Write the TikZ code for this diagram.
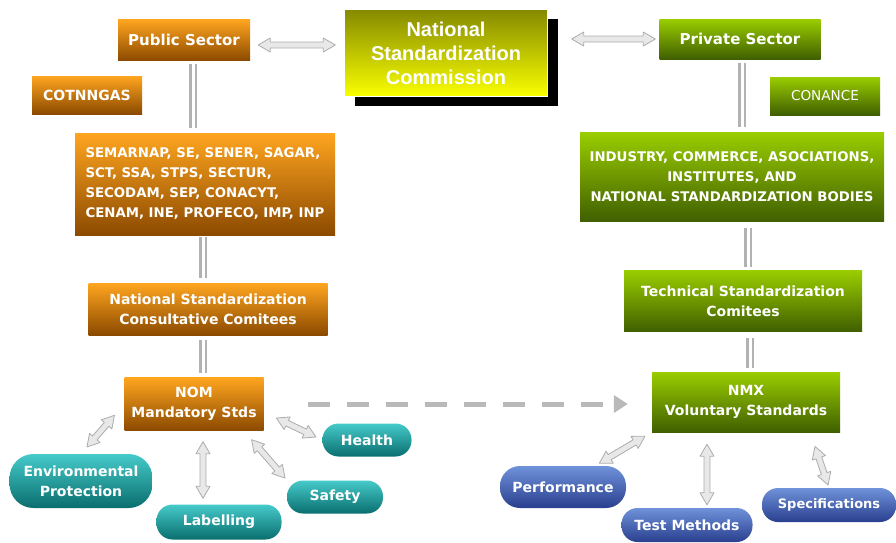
\documentclass[tikz,border=0pt]{standalone}
\usepackage{fontspec}
\setmainfont{DejaVu Sans}
\newfontfamily\arialfont{Liberation Sans}
\usepackage{tikz}
\usetikzlibrary{calc,positioning,arrows.meta,shapes.misc,shadows}

\definecolor{orangetop}{HTML}{FFA51F}
\definecolor{orangemid}{HTML}{EE8A00}
\definecolor{orangebot}{HTML}{8C4A00}
\definecolor{greentop}{HTML}{9ACD00}
\definecolor{greenmid}{HTML}{78A800}
\definecolor{greenbot}{HTML}{405F00}
\definecolor{tealtop}{HTML}{46CACA}
\definecolor{tealbot}{HTML}{0A6E6E}
\definecolor{bluetop}{HTML}{6F92DA}
\definecolor{bluebot}{HTML}{2A3F8F}
\definecolor{olivetop}{HTML}{858A00}
\definecolor{commyellow}{HTML}{FAFF00}

\tikzset{
    >=Stealth,
    orangebox/.style={
        rectangle,
        inner sep=0pt,
        top color=orangetop,
        middle color=orangemid,
        bottom color=orangebot,
        text=white,
        font=\fontsize{14}{20}\selectfont\bfseries
    },
    greenbox/.style={
        rectangle,
        inner sep=0pt,
        top color=greentop,
        middle color=greenmid,
        bottom color=greenbot,
        text=white,
        font=\fontsize{14}{20}\selectfont\bfseries
    },
    tealpill/.style={
        rectangle,
        rounded corners=16pt,
        inner sep=0pt,
        top color=tealtop,
        bottom color=tealbot,
        text=white,
        font=\fontsize{14}{20}\selectfont\bfseries
    },
    bluepill/.style={
        rectangle,
        rounded corners=16pt,
        inner sep=0pt,
        top color=bluetop,
        bottom color=bluebot,
        text=white,
        font=\fontsize{14}{20}\selectfont\bfseries
    },
    link/.style={draw=gray!60, line width=2.5pt, double=white, double distance=3pt},
    fatarrow/.style={fill=gray!18, draw=gray!65, line width=0.8pt, line join=round}
}

% two-headed block arrow between two points, shortened by #3 and #4
\newcommand{\biarrow}[4]{%
    \draw[fatarrow] let \p1=($(#1)!#3!(#2)$), \p2=($(#2)!#4!(#1)$),
        \n1={atan2(\y2-\y1,\x2-\x1)}, \n2={veclen(\x2-\x1,\y2-\y1)} in
        [shift={(\p1)}, rotate=\n1]
        (0pt,0pt) -- (12pt,7pt) -- (12pt,3pt) -- ({\n2*1pt-12pt},3pt) -- ({\n2*1pt-12pt},7pt)
        -- ({\n2*1pt},0pt) -- ({\n2*1pt-12pt},-7pt) -- ({\n2*1pt-12pt},-3pt)
        -- (12pt,-3pt) -- (12pt,-7pt) -- cycle;}

\begin{document}
\begin{tikzpicture}[x=1pt, y=-1pt,
            commission/.style={
                rectangle,
                inner sep=0pt,
                top color=olivetop,
                bottom color=commyellow,
                draw=white, thin,
                text=white,
                font=\arialfont\fontsize{20}{24}\selectfont\bfseries,
                drop shadow={shadow xshift=10pt, shadow yshift=-9pt, fill=black, opacity=1}
            },
            dashlink/.style={
                draw=gray!55,
                line width=5pt,
                dash pattern=on 22pt off 17pt,
                -{Triangle[length=14pt, width=17pt]}
            }]
    \useasboundingbox (0,0) rectangle (896,542);

    \node[commission, minimum width=203, minimum height=87, align=center] (NSC) at (446,53)
        {National\\Standardization\\Commission};

    % public side
    \node[orangebox, minimum width=132, minimum height=41, font=\fontsize{15}{18}\selectfont\bfseries]
        (Pub) at (184,40) {Public Sector};
    \node[orangebox, minimum width=110, minimum height=38] (Cot) at (87,95) {COTNNGAS};
    \node[orangebox, minimum width=260, minimum height=102, align=left,
          font=\fontsize{13.3}{20}\selectfont\bfseries] (Gov) at (205,184)
        {SEMARNAP, SE, SENER, SAGAR,\\SCT, SSA, STPS, SECTUR,\\SECODAM, SEP, CONACYT,\\CENAM, INE, PROFECO, IMP, INP};
    \node[orangebox, minimum width=239, minimum height=52, align=center] (Cons) at (208,309)
        {National Standardization\\Consultative Comitees};
    \node[orangebox, minimum width=139, minimum height=53, align=center] (NOM) at (194,404)
        {NOM\\Mandatory Stds};

    % private side
    \node[greenbox, minimum width=161, minimum height=40, font=\fontsize{15}{18}\selectfont\bfseries]
        (Priv) at (740,39) {Private Sector};
    \node[greenbox, minimum width=110, minimum height=38, font=\fontsize{13.6}{18}\selectfont]
        (Conance) at (825,96) {CONANCE};
    \node[greenbox, minimum width=304, minimum height=89, align=center,
          font=\fontsize{13.3}{20}\selectfont\bfseries] (Ind) at (732,177)
        {INDUSTRY, COMMERCE, ASOCIATIONS,\\INSTITUTES, AND\\NATIONAL STANDARDIZATION BODIES};
    \node[greenbox, minimum width=238, minimum height=61, align=center] (Tech) at (743,301)
        {Technical Standardization\\Comitees};
    \node[greenbox, minimum width=188, minimum height=60, align=center] (NMX) at (746,402)
        {NMX\\Voluntary Standards};

    % mandatory topics
    \node[tealpill, minimum width=89, minimum height=33] (Health) at (367,440) {Health};
    \node[tealpill, minimum width=143, minimum height=54, rounded corners=24pt, align=center]
        (Env) at (81,481) {Environmental\\Protection};
    \node[tealpill, minimum width=125, minimum height=35] (Lab) at (219,522) {Labelling};
    \node[tealpill, minimum width=96, minimum height=33] (Saf) at (335,497) {Safety};

    % voluntary topics
    \node[bluepill, minimum width=126, minimum height=42, rounded corners=20pt] (Perf) at (563,487) {Performance};
    \node[bluepill, minimum width=131, minimum height=34] (Test) at (687,525) {Test Methods};
    \node[bluepill, minimum width=134, minimum height=34, font=\fontsize{13}{18}\selectfont\bfseries]
        (Spec) at (829,505) {Specifications};

    % vertical links
    \draw[link, shorten <=3pt, shorten >=5pt] ([xshift=9]Pub.south) -- ([xshift=9]Pub.south |- Gov.north);
    \draw[link, shorten <=2pt, shorten >=5pt] ([xshift=-2]Gov.south) -- ([xshift=-2]Gov.south |- Cons.north);
    \draw[link, shorten <=5pt, shorten >=4pt] ([xshift=-5]Cons.south) -- ([xshift=-5]Cons.south |- NOM.north);
    \draw[link, shorten <=4pt, shorten >=5pt] ([xshift=2]Priv.south) -- ([xshift=2]Priv.south |- Ind.north);
    \draw[link, shorten <=6pt, shorten >=3pt] ([xshift=16]Ind.south) -- ([xshift=16]Ind.south |- Tech.north);
    \draw[link, shorten <=6pt, shorten >=4pt] ([xshift=7]Tech.south) -- ([xshift=7]Tech.south |- NMX.north);

    \draw[dashlink, shorten <=44pt, shorten >=24pt] (NOM.east) -- (NOM.east -| NMX.west);

    % two-way arrows
    \biarrow{[yshift=-5]Pub.east}{[yshift=-5]Pub.east -| NSC.west}{8pt}{9pt}
    \biarrow{Priv.west -| NSC.east}{Priv.west}{24pt}{4pt}
    \biarrow{NOM.west}{Env.north}{15pt}{9pt}
    \biarrow{[xshift=9]NOM.south}{[xshift=9]NOM.south |- Lab.north}{11pt}{6pt}
    \biarrow{[xshift=-20]NOM.south east}{[xshift=-48]Saf.north}{12pt}{3pt}
    \biarrow{[yshift=-8]NOM.east}{Health.west}{14pt}{7pt}
    \biarrow{NMX.south west}{[xshift=32]Perf.north}{8pt}{5pt}
    \biarrow{[xshift=20]Test.north |- NMX.south}{[xshift=20]Test.north}{12pt}{3pt}
    \biarrow{[xshift=-30]NMX.south east}{Spec.north}{15pt}{3pt}
\end{tikzpicture}
\end{document}
